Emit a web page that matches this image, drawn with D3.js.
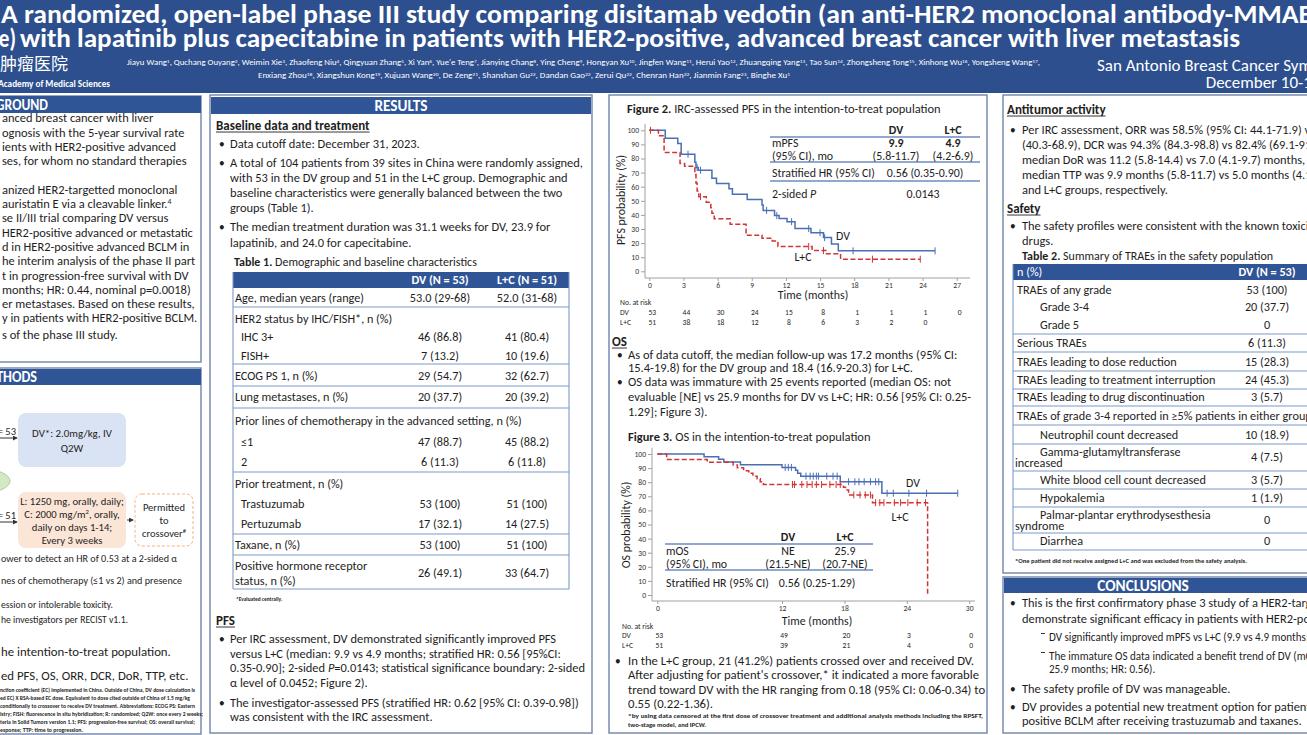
<!DOCTYPE html>
<html><head><meta charset="utf-8">
<script src="https://cdn.jsdelivr.net/npm/d3@7"></script>
<style>html,body{margin:0;padding:0;background:#fff;overflow:hidden}svg{display:block}</style>
</head><body>
<svg id="poster" width="1307" height="735"></svg>
<script>
// ================= DATA =================
const titleLine1 = "A randomized, open-label phase III study comparing disitamab vedotin (an anti-HER2 monoclonal antibody-MMAE";
const titleLine2a = "conjugate)";
const titleLine2b = "with lapatinib plus capecitabine in patients with HER2-positive, advanced breast cancer with liver metastasis";
const authors1 = "Jiayu Wang^{1}, Quchang Ouyang^{2}, Weimin Xie^{3}, Zhaofeng Niu^{4}, Qingyuan Zhang^{5}, Xi Yan^{6}, Yue'e Teng^{7}, Jianying Chang^{8}, Ying Cheng^{9}, Hongyan Xu^{10}, Jingfen Wang^{11}, Herui Yao^{12}, Zhuangqing Yang^{13}, Tao Sun^{14}, Zhongsheng Tong^{15}, Xinhong Wu^{16}, Yongsheng Wang^{17},";
const authors2 = "Enxiang Zhou^{18}, Xiangshun Kong^{19}, Xujuan Wang^{20}, De Zeng^{21}, Shanshan Gu^{22}, Dandan Gao^{22}, Zerui Qu^{22}, Chenran Han^{22}, Jianmin Fang^{23}, Binghe Xu^{1}";
const meeting = ["San Antonio Breast Cancer Symposium", "December 10-13, 2024"];

// Figure 2 – IRC-assessed PFS (time in months, survival %)
const pfsTicks = [0, 3, 6, 9, 12, 15, 18, 21, 24, 27];
const pfsDV = [[0,100],[1.4,94.3],[2.5,90.6],[2.8,83.0],[4.0,77.4],[4.1,73.6],[4.3,71.7],[5.5,66.0],[5.9,62.3],[7.0,58.5],[7.3,54.7],[8.6,50.9],[9.9,47.0],[10.0,43.2],[11.0,39.5],[11.4,37.4],[12.1,35.2],[12.8,30.3],[14.2,27.3],[15.3,23.9],[16.0,19.3],[16.6,14.5],[25.1,14.5]];
const pfsLC = [[0,100],[0.8,96.1],[1.3,84.3],[2.7,76.5],[3.1,74.5],[4.0,68.6],[4.1,62.7],[4.2,56.9],[4.35,52.9],[5.0,49.0],[5.4,45.1],[5.5,41.2],[5.7,37.3],[7.1,33.3],[8.5,25.5],[9.9,23.5],[10.8,21.5],[11.3,17.6],[14.3,14.7],[15.5,12.4],[16.8,8.6],[23.8,8.6]];
const pfsCensDV = [3.4, 4.2, 4.5, 10.3, 11.2, 12.5, 14.0, 15.0, 15.4, 17.9, 25.1];
const pfsCensLC = [0.1, 4.5, 14.0, 15.3, 19.6, 23.8];
const pfsRiskDV = [53, 44, 30, 24, 15, 8, 1, 1, 1, 0];
const pfsRiskLC = [51, 38, 18, 12, 8, 6, 3, 2, 0];

// Figure 3 – OS
const osTicks = [0, 12, 18, 24, 30];
const osDV = [[0,100],[4.5,98.1],[5.9,96.2],[6.4,94.3],[8.0,92.4],[12.0,90.5],[13.3,88.5],[13.5,86.4],[13.8,84.3],[17.6,80.3],[21.6,72.2],[28.9,72.2]];
const osLC = [[0,100],[0.9,96.1],[4.8,94.1],[7.3,92.2],[7.7,90.2],[8.3,88.2],[8.8,86.3],[9.2,84.3],[9.6,82.4],[9.9,80.4],[10.2,78.4],[17.9,76.5],[18.1,74.5],[18.4,71.0],[20.7,65.5],[26.0,0]];
const osCensDV = [12.3,12.6,12.9,14.3,14.7,15.0,15.3,15.5,16.3,16.9,17.3,18.4,19.0,19.4,19.9,20.5,21.0,21.3,22.1,22.7,24.2,25.9,28.9];
const osCensLC = [13.0,13.2,13.9,14.4,14.9,15.3,15.8,16.6,17.2,17.6,18.9,19.5,20.0,20.5,21.0,21.4,21.8,22.8,23.4,24.1,25.0,25.8];
const osRiskDV = [53, 49, 20, 3, 0];
const osRiskLC = [51, 39, 21, 4, 0];
const yTicks = [0, 10, 20, 30, 40, 50, 60, 70, 80, 90, 100];

// Table 1
const t1Cols = ["DV (N = 53)", "L+C (N = 51)"];
const t1Rows = [
  ["Age, median years (range)", "53.0 (29-68)", "52.0 (31-68)", 0],
  ["HER2 status by IHC/FISH*, n (%)", "", "", 0],
  ["IHC 3+", "46 (86.8)", "41 (80.4)", 1],
  ["FISH+", "7 (13.2)", "10 (19.6)", 1],
  ["ECOG PS 1, n (%)", "29 (54.7)", "32 (62.7)", 0],
  ["Lung metastases, n (%)", "20 (37.7)", "20 (39.2)", 0],
  ["Prior lines of chemotherapy in the advanced setting, n (%)", "", "", 0],
  ["≤1", "47 (88.7)", "45 (88.2)", 1],
  ["2", "6 (11.3)", "6 (11.8)", 1],
  ["Prior treatment, n (%)", "", "", 0],
  ["Trastuzumab", "53 (100)", "51 (100)", 1],
  ["Pertuzumab", "17 (32.1)", "14 (27.5)", 1],
  ["Taxane, n (%)", "53 (100)", "51 (100)", 0],
  ["Positive hormone receptor|status, n (%)", "26 (49.1)", "33 (64.7)", 0]
];
// Table 2
const t2Cols = ["n (%)", "DV (N = 53)", "L+C (N = 50*)"];
const t2Rows = [
  ["TRAEs of any grade", "53 (100)", 0],
  ["Grade 3-4", "20 (37.7)", 1],
  ["Grade 5", "0", 1],
  ["Serious TRAEs", "6 (11.3)", 0],
  ["TRAEs leading to dose reduction", "15 (28.3)", 0],
  ["TRAEs leading to treatment interruption", "24 (45.3)", 0],
  ["TRAEs leading to drug discontinuation", "3 (5.7)", 0],
  ["TRAEs of grade 3-4 reported in ≥5% patients in either group", "", 0],
  ["Neutrophil count decreased", "10 (18.9)", 1],
  ["Gamma-glutamyltransferase|increased", "4 (7.5)", 1],
  ["White blood cell count decreased", "3 (5.7)", 1],
  ["Hypokalemia", "1 (1.9)", 1],
  ["Palmar-plantar erythrodysesthesia|syndrome", "0", 1],
  ["Diarrhea", "0", 1]
];

// ================= SETUP =================
const svg = d3.select('#poster');
const F = "Carlito, Lato, 'Open Sans', sans-serif";
const HDR = '#2d4f8e', BLUE = '#2f5597', BORDER = '#6f84aa', TLINE = '#7d9acb', DVC = '#4a6fb5', LCC = '#d03434', INK = '#1e1e1e';
const probe = svg.append('text').attr('font-family', F).attr('font-size', 11).text('A total of 104 patients from 39 sites in China were randomly assigned,');
const K = 353 / probe.node().getComputedTextLength();
probe.remove();
const S = n => +(n * K).toFixed(2);

function rich(g, x, y, str, o = {}) {
  const s = o.s || S(11);
  const t = g.append('text').attr('x', x).attr('y', y + s * 0.34)
    .attr('font-family', o.f || F).attr('font-size', s)
    .attr('fill', o.c || INK).attr('text-anchor', o.a || 'start');
  if (o.b) t.attr('font-weight', 700);
  if (o.w) t.attr('textLength', o.w).attr('lengthAdjust', 'spacingAndGlyphs');
  const r = s * 0.38; let raised = false;
  str.split(/(\^\{[^}]*\}|~\{[^}]*\}|!\{[^}]*\})/).forEach(p => {
    if (!p) return;
    let m;
    if ((m = p.match(/^\^\{(.*)\}$/))) {
      t.append('tspan').attr('font-size', s * 0.62).attr('dy', raised ? 0 : -r).text(m[1]);
      raised = true; return;
    }
    const ts = t.append('tspan');
    if (raised) { ts.attr('dy', r); raised = false; }
    if ((m = p.match(/^~\{(.*)\}$/))) ts.attr('font-style', 'italic').text(m[1]);
    else if ((m = p.match(/^!\{(.*)\}$/))) ts.attr('font-weight', 700).text(m[1]);
    else ts.text(p);
  });
  if (o.u) {
    const w = t.node().getComputedTextLength();
    g.append('line').attr('x1', x).attr('x2', x + w).attr('y1', y + s * 0.34 + 1.6).attr('y2', y + s * 0.34 + 1.6)
      .attr('stroke', o.c || INK).attr('stroke-width', 0.9);
  }
  return t;
}
function block(g, x, ys, strs, o) { strs.forEach((s, i) => rich(g, x, ys[i], s, o)); }
function box(x, y, w, h) {
  svg.append('rect').attr('x', x).attr('y', y).attr('width', w).attr('height', h)
    .attr('fill', '#fff').attr('stroke', BORDER).attr('stroke-width', 1.4);
}
function bar(x, y, w, h, label, lx, anchor, tw) {
  svg.append('rect').attr('x', x).attr('y', y).attr('width', w).attr('height', h).attr('fill', BLUE);
  rich(svg, lx, y + h / 2, label, { s: S(13.5), b: 1, c: '#fff', a: anchor || 'middle', w: tw });
}
const defs = svg.append('defs');
defs.append('marker').attr('id', 'arr').attr('viewBox', '0 0 6 6').attr('refX', 5).attr('refY', 3)
  .attr('markerWidth', 5).attr('markerHeight', 5).attr('orient', 'auto')
  .append('path').attr('d', 'M0,0L6,3L0,6Z').attr('fill', '#333');

// ================= HEADER =================
svg.append('rect').attr('width', 1307).attr('height', 93).attr('fill', HDR);
rich(svg, 1, 14, titleLine1, { s: 27, b: 1, c: '#fff', w: 1311 });
rich(svg, 16, 37.5, titleLine2a, { s: 27, b: 1, c: '#fff', a: 'end', w: 92 });
rich(svg, 20, 37.5, titleLine2b, { s: 27, b: 1, c: '#fff', w: 1220 });
rich(svg, 68, 64, "中国医学科学院肿瘤医院", { s: 17, c: '#fff', a: 'end', f: "'Noto Sans CJK SC', sans-serif" });
rich(svg, 110, 84, "Chinese Academy of Medical Sciences", { s: 9.2, b: 1, c: '#fff', a: 'end' });
rich(svg, 127, 63, authors1, { s: 7.3, c: '#fff', w: 913 });
rich(svg, 258, 76, authors2, { s: 7.3, c: '#fff', w: 532 });
{
  const m1 = rich(svg, 1097, 65, meeting[0], { s: S(15), c: '#fff' });
  const right = 1097 + m1.node().getComputedTextLength();
  rich(svg, right, 82.5, meeting[1], { s: S(15), c: '#fff', a: 'end' });
}

// ================= COLUMN 1 =================
box(-6, 96, 207, 266);
bar(-6, 96, 207, 17, "BACKGROUND", -34, 'start', 82);
block(svg, 2, [118, 133, 147, 161, 190, 204, 218, 233, 247, 261, 276, 290, 304, 318, 335], [
  "anced breast cancer with liver",
  "ognosis with the 5-year survival rate",
  "ients with HER2-positive advanced",
  "ses, for whom no standard therapies",
  "anized HER2-targetted monoclonal",
  "auristatin E via a cleavable linker.^{4}",
  "se II/III trial comparing DV versus",
  "HER2-positive advanced or metastatic",
  "d in HER2-positive advanced BCLM in",
  "he interim analysis of the phase II part",
  "t in progression-free survival with DV",
  "months; HR: 0.44, nominal p=0.0018)",
  "er metastases. Based on these results,",
  "y in patients with HER2-positive BCLM.",
  "s of the phase III study."
]);

box(-6, 368, 207, 366);
bar(-6, 369, 207, 16, "METHODS", -23, 'start', 60);
// flow diagram
rich(svg, 16, 431, "= 53", { s: S(9.3), a: 'end' });
svg.append('line').attr('x1', -6).attr('x2', 17).attr('y1', 438).attr('y2', 438).attr('stroke', '#333').attr('stroke-width', 1).attr('marker-end', 'url(#arr)');
svg.append('rect').attr('x', 18).attr('y', 413).attr('width', 108).attr('height', 54).attr('rx', 8).attr('fill', '#dae3f3');
rich(svg, 72, 433, "DV*: 2.0mg/kg, IV", { s: S(9.6), a: 'middle' });
rich(svg, 72, 448, "Q2W", { s: S(9.6), a: 'middle' });
svg.append('ellipse').attr('cx', -18).attr('cy', 481).attr('rx', 28).attr('ry', 12).attr('fill', '#d5e8c6').attr('stroke', '#a9d18e');
rich(svg, 16, 515, "= 51", { s: S(9.3), a: 'end' });
svg.append('line').attr('x1', -6).attr('x2', 17).attr('y1', 522).attr('y2', 522).attr('stroke', '#333').attr('stroke-width', 1).attr('marker-end', 'url(#arr)');
svg.append('rect').attr('x', 18).attr('y', 492).attr('width', 108).attr('height', 56).attr('rx', 8).attr('fill', '#fbe5d6');
block(svg, 72, [501, 514, 527, 540], ["L: 1250 mg, orally, daily;", "C: 2000 mg/m^{2}, orally,", "daily on days 1-14;", "Every 3 weeks"], { s: S(9.4), a: 'middle' });
svg.append('line').attr('x1', 127).attr('x2', 133).attr('y1', 520).attr('y2', 520).attr('stroke', '#333').attr('stroke-width', 1).attr('marker-end', 'url(#arr)');
svg.append('rect').attr('x', 135).attr('y', 494).attr('width', 58).attr('height', 52).attr('rx', 7).attr('fill', 'none').attr('stroke', '#f4b183').attr('stroke-dasharray', '3,2');
block(svg, 164, [507, 520, 533], ["Permitted", "to", "crossover^{#}"], { s: S(9.3), a: 'middle' });
[["ower to detect an HR of 0.53 at a 2-sided α", 558, 176],
 ["nes of chemotherapy (≤1 vs 2) and presence", 580, 181],
 ["ession or intolerable toxicity.", 604, 112],
 ["he investigators per RECIST v1.1.", 619, 127]].forEach(d => rich(svg, 1, d[1], d[0], { s: S(9.6), w: d[2] }));
block(svg, 1, [652, 676], ["he intention-to-treat population.", "ed PFS, OS, ORR, DCR, DoR, TTP, etc."], { s: S(11.3) });
const fn1 = [
  ["nction coefficient (EC) implemented in China. Outside of China, DV dose calculation is", 195],
  ["ed EC) X BSA-based EC dose. Equivalent to dose cited outside of China of 1.5 mg/kg", 190],
  ["conditionally to crossover to receive DV treatment. Abbreviations: ECOG PS: Eastern", 195],
  ["istry; FISH: fluorescence in situ hybridization; R: randomized; Q2W: once every 2 weeks;", 203],
  ["teria in Solid Tumors version 1.1; PFS: progression-free survival; OS: overall survival;", 195],
  ["esponse; TTP: time to progression.", 83]
];
fn1.forEach((d, i) => rich(svg, 0, 690 + i * 8, d[0], { s: 5.4, b: 1, w: d[1] }));

// ================= COLUMN 2 (RESULTS) =================
box(210, 95, 382, 638);
bar(211, 97, 380, 17, "RESULTS", 401);
rich(svg, 216, 126, "Baseline data and treatment", { s: S(11.5), b: 1, u: 1 });
[144, 163, 227].forEach(y => rich(svg, 219, y, "•", { s: S(10) }));
block(svg, 230, [144, 163, 178, 193, 208, 227, 243], [
  "Data cutoff date: December 31, 2023.",
  "A total of 104 patients from 39 sites in China were randomly assigned,",
  "with 53 in the DV group and 51 in the L+C group. Demographic and",
  "baseline characteristics were generally balanced between the two",
  "groups (Table 1).",
  "The median treatment duration was 31.1 weeks for DV, 23.9 for",
  "lapatinib, and 24.0 for capecitabine."
]);
rich(svg, 234, 262, "!{Table 1.} Demographic and baseline characteristics", { s: S(10.6) });
{
  const g = svg.append('g');
  const colX = [440, 527], rowY = [298, 319, 337, 356, 376, 397, 421, 442, 462, 484, 504, 524, 545, 573];
  const lineY = [307, 364, 386, 408, 472, 534, 555, 589];
  g.append('rect').attr('x', 233).attr('y', 272).attr('width', 336).attr('height', 16).attr('fill', BLUE);
  t1Cols.forEach((c, i) => rich(g, colX[i], 280, c, { b: 1, c: '#fff', a: 'middle', s: S(10.8) }));
  t1Rows.forEach((r, i) => {
    const y = rowY[i], parts = r[0].split('|');
    if (parts.length > 1) { rich(g, 235, y - 7.5, parts[0], { s: S(10.8) }); rich(g, 235, y + 7.5, parts[1], { s: S(10.8) }); }
    else rich(g, r[3] ? 241 : 235, y, parts[0], { s: S(10.8) });
    rich(g, colX[0], y, r[1], { a: 'middle', s: S(10.8) });
    rich(g, colX[1], y, r[2], { a: 'middle', s: S(10.8) });
  });
  lineY.forEach(y => g.append('line').attr('x1', 233).attr('x2', 569).attr('y1', y).attr('y2', y).attr('stroke', TLINE).attr('stroke-width', 1.1));
  [233, 569].forEach(x => g.append('line').attr('x1', x).attr('x2', x).attr('y1', 272).attr('y2', 589).attr('stroke', TLINE).attr('stroke-width', 1.1));
  rich(g, 236, 599, "*Evaluated centrally.", { s: 5.4, b: 1 });
}
rich(svg, 216, 621, "PFS", { s: S(11.5), b: 1, u: 1 });
[639, 703].forEach(y => rich(svg, 219, y, "•", { s: S(10) }));
block(svg, 230, [639, 654, 668, 683, 703, 717], [
  "Per IRC assessment, DV demonstrated significantly improved PFS",
  "versus L+C (median: 9.9 vs 4.9 months; stratified HR: 0.56 [95%CI:",
  "0.35-0.90]; 2-sided ~{P}=0.0143; statistical significance boundary: 2-sided",
  "α level of 0.0452; Figure 2).",
  "The investigator-assessed PFS (stratified HR: 0.62 [95% CI: 0.39-0.98])",
  "was consistent with the IRC assessment."
]);

// ================= COLUMN 3 (FIGURES) =================
box(609, 95, 378, 638);

function survAt(steps, t) { let v = steps[0][1]; steps.forEach(s => { if (s[0] <= t) v = s[1]; }); return v; }
function kmPlot(c) {
  const g = svg.append('g');
  const xs = d3.scaleLinear().domain([0, c.xmax]).range(c.xr);
  const ys = d3.scaleLinear().domain([0, 100]).range(c.yr);
  const ya = g.append('g').attr('transform', `translate(${c.ax},0)`)
    .call(d3.axisLeft(ys).tickValues(yTicks).tickSize(4).tickPadding(2).tickSizeOuter(0));
  ya.select('.domain').attr('d', `M0,${ys(104.5)}V${c.ay}`);
  const xa = g.append('g').attr('transform', `translate(0,${c.ay})`)
    .call(d3.axisBottom(xs).tickValues(c.ticks).tickSize(3).tickPadding(2).tickSizeOuter(0));
  xa.select('.domain').attr('d', `M${c.ax},0H${c.xend}`);
  [ya, xa].forEach(a => {
    a.selectAll('path,line').attr('stroke', '#a0a0a0');
    a.selectAll('text').attr('font-family', F).attr('font-size', 7.6).attr('fill', '#333');
  });
  const line = d3.line().x(d => xs(d[0])).y(d => ys(d[1])).curve(d3.curveStepAfter);
  c.series.forEach(s => {
    g.append('path').datum(s.steps).attr('d', line).attr('fill', 'none').attr('stroke', s.color)
      .attr('stroke-width', 1.5).attr('stroke-dasharray', s.dash || null);
    g.selectAll(null).data(s.cens).join('line')
      .attr('x1', d => xs(d)).attr('x2', d => xs(d))
      .attr('y1', d => ys(survAt(s.steps, d)) - 3.5).attr('y2', d => ys(survAt(s.steps, d)) + 3.5)
      .attr('stroke', s.color).attr('stroke-width', 1);
    rich(g, s.lx, s.ly, s.name, { s: S(10.5), a: 'middle' });
  });
  g.append('text').attr('transform', `translate(${c.ylx},${c.yly}) rotate(-90)`).attr('text-anchor', 'middle')
    .attr('dy', '0.34em').attr('font-family', F).attr('font-size', S(10.5)).attr('fill', INK).text(c.ylab);
  rich(g, c.tx, c.ty, "Time (months)", { s: S(10.5), a: 'middle' });
  rich(g, c.rx, c.ry[0], "No. at risk", { s: 7.6 });
  c.risk.forEach((r, j) => {
    rich(g, c.rx, c.ry[j + 1], r.name, { s: 7.6 });
    r.vals.forEach((v, i) => rich(g, xs(c.riskT[i]) + c.roff, c.ry[j + 1], String(v), { s: 7.6, a: 'middle' }));
  });
  return { xs, ys };
}

rich(svg, 627, 109, "!{Figure 2.} IRC-assessed PFS in the intention-to-treat population", { s: S(11) });
kmPlot({
  xmax: 27, xr: [649.3, 956.7], yr: [271.3, 130.3], ax: 645, ay: 278, xend: 970, ticks: pfsTicks,
  series: [
    { name: "DV", steps: pfsDV, cens: pfsCensDV, color: DVC, lx: 843, ly: 236 },
    { name: "L+C", steps: pfsLC, cens: pfsCensLC, color: LCC, dash: '5,2.5', lx: 803, ly: 257 }
  ],
  ylab: "PFS probability (%)", ylx: 621, yly: 200, tx: 813, ty: 295,
  rx: 620, ry: [302, 312, 322], riskT: pfsTicks, roff: 3,
  risk: [{ name: "DV", vals: pfsRiskDV }, { name: "L+C", vals: pfsRiskLC }]
});
{
  const g = svg.append('g'), s = S(10.5);
  [137, 162, 181].forEach(y => g.append('line').attr('x1', 770).attr('x2', 980).attr('y1', y).attr('y2', y).attr('stroke', '#6d8bbf').attr('stroke-width', 1.4));
  rich(g, 896, 130, "DV", { s, b: 1, a: 'middle' }); rich(g, 953, 130, "L+C", { s, b: 1, a: 'middle' });
  rich(g, 772, 143, "mPFS", { s }); rich(g, 772, 156, "(95% CI), mo", { s });
  rich(g, 896, 143, "9.9", { s, b: 1, a: 'middle' }); rich(g, 953, 143, "4.9", { s, b: 1, a: 'middle' });
  rich(g, 896, 156, "(5.8-11.7)", { s, a: 'middle' }); rich(g, 953, 156, "(4.2-6.9)", { s, a: 'middle' });
  rich(g, 772, 173, "Stratified HR (95% CI)", { s }); rich(g, 925, 173, "0.56 (0.35-0.90)", { s, a: 'middle' });
  rich(g, 772, 194, "2-sided ~{P}", { s }); rich(g, 923, 194, "0.0143", { s, a: 'middle' });
}
rich(svg, 612, 342, "OS", { s: S(11.5), b: 1, u: 1 });
[355, 382].forEach(y => rich(svg, 617, y, "•", { s: S(10) }));
block(svg, 628, [355, 368, 382, 397, 412], [
  "As of data cutoff, the median follow-up was 17.2 months (95% CI:",
  "15.4-19.8) for the DV group and 18.4 (16.9-20.3) for L+C.",
  "OS data was immature with 25 events reported (median OS: not",
  "evaluable [NE] vs 25.9 months for DV vs L+C; HR: 0.56 [95% CI: 0.25-",
  "1.29]; Figure 3)."
]);
rich(svg, 628, 437, "!{Figure 3.} OS in the intention-to-treat population", { s: S(11) });
kmPlot({
  xmax: 30, xr: [657.3, 969.2], yr: [595, 454], ax: 652, ay: 601, xend: 975, ticks: osTicks,
  series: [
    { name: "DV", steps: osDV, cens: osCensDV, color: DVC, lx: 913, ly: 483 },
    { name: "L+C", steps: osLC, cens: osCensLC, color: LCC, dash: '5,2.5', lx: 900, ly: 517 }
  ],
  ylab: "OS probability (%)", ylx: 626, yly: 525, tx: 817, ty: 621,
  rx: 622, ry: [626, 635, 645], riskT: osTicks, roff: 2,
  risk: [{ name: "DV", vals: osRiskDV }, { name: "L+C", vals: osRiskLC }]
});
{
  const g = svg.append('g'), s = S(10.5);
  [544, 570].forEach(y => g.append('line').attr('x1', 665).attr('x2', 873).attr('y1', y).attr('y2', y).attr('stroke', '#6d8bbf').attr('stroke-width', 1.4));
  rich(g, 788, 537, "DV", { s, b: 1, a: 'middle' }); rich(g, 845, 537, "L+C", { s, b: 1, a: 'middle' });
  rich(g, 666, 551, "mOS", { s }); rich(g, 666, 564, "(95% CI), mo", { s });
  rich(g, 788, 551, "NE", { s, a: 'middle' }); rich(g, 845, 551, "25.9", { s, a: 'middle' });
  rich(g, 788, 564, "(21.5-NE)", { s, a: 'middle' }); rich(g, 845, 564, "(20.7-NE)", { s, a: 'middle' });
  rich(g, 666, 583, "Stratified HR (95% CI)", { s }); rich(g, 817, 583, "0.56 (0.25-1.29)", { s, a: 'middle' });
}
rich(svg, 615, 661, "•", { s: S(10) });
block(svg, 628, [661, 675, 690, 704], [
  "In the L+C group, 21 (41.2%) patients crossed over and received DV.",
  "After adjusting for patient's crossover,* it indicated a more favorable",
  "trend toward DV with the HR ranging from 0.18 (95% CI: 0.06-0.34) to",
  "0.55 (0.22-1.36)."
], { s: S(11.2) });
rich(svg, 628, 716, "*by using data censored at the first dose of crossover treatment and additional analysis methods including the RPSFT,", { s: 5.4, b: 1, w: 355 });
rich(svg, 628, 725, "two-stage model, and IPCW.", { s: 5.4, b: 1, w: 78 });

// ================= COLUMN 4 =================
box(1003, 95, 320, 478);
rich(svg, 1007, 110, "Antitumor activity", { s: S(11.5), b: 1, u: 1 });
rich(svg, 1010, 130, "•", { s: S(10) });
block(svg, 1022, [130, 145, 160, 175, 190], [
  "Per IRC assessment, ORR was 58.5% (95% CI: 44.1-71.9) vs 54.9%",
  "(40.3-68.9), DCR was 94.3% (84.3-98.8) vs 82.4% (69.1-91.6),",
  "median DoR was 11.2 (5.8-14.4) vs 7.0 (4.1-9.7) months, and",
  "median TTP was 9.9 months (5.8-11.7) vs 5.0 months (4.1-6.9) in the DV",
  "and L+C groups, respectively."
]);
rich(svg, 1007, 209, "Safety", { s: S(11.5), b: 1, u: 1 });
rich(svg, 1010, 226, "•", { s: S(10) });
block(svg, 1022, [226, 241], ["The safety profiles were consistent with the known toxicities of the", "drugs."]);
rich(svg, 1022, 256, "!{Table 2.} Summary of TRAEs in the safety population", { s: S(10.6) });
{
  const g = svg.append('g');
  const colX = [1017, 1267, 1345];
  const rowY = [290, 307, 325, 343, 362, 380, 397, 416, 435, 457, 480, 498, 520, 541];
  const lineY = [334, 352, 371, 389, 406, 425, 444, 471, 489, 507, 533, 550];
  g.append('rect').attr('x', 1013).attr('y', 264).attr('width', 310).attr('height', 16).attr('fill', BLUE);
  rich(g, colX[0], 272, t2Cols[0], { c: '#fff', s: S(10.8) });
  rich(g, colX[1], 272, t2Cols[1], { c: '#fff', b: 1, a: 'middle', s: S(10.8) });
  rich(g, colX[2], 272, t2Cols[2], { c: '#fff', b: 1, a: 'middle', s: S(10.8) });
  t2Rows.forEach((r, i) => {
    const y = rowY[i], parts = r[0].split('|'), x = r[2] ? 1040 : 1017;
    if (parts.length > 1) { rich(g, x, y - 5.5, parts[0], { s: S(10.8) }); rich(g, 1015, y + 5.5, parts[1], { s: S(10.8) }); }
    else rich(g, x, y, parts[0], { s: S(10.8) });
    rich(g, colX[1], y, r[1], { a: 'middle', s: S(10.8) });
  });
  lineY.forEach(y => g.append('line').attr('x1', 1013).attr('x2', 1323).attr('y1', y).attr('y2', y).attr('stroke', TLINE).attr('stroke-width', 1.1));
  g.append('line').attr('x1', 1013).attr('x2', 1013).attr('y1', 264).attr('y2', 550).attr('stroke', TLINE).attr('stroke-width', 1.1);
  rich(g, 1015, 561, "*One patient did not receive assigned L+C and was excluded from the safety analysis.", { s: 5.4, b: 1, w: 232 });
}
box(1003, 577, 320, 156);
bar(1004, 578, 318, 15, "CONCLUSIONS", 1143);
[603, 689, 707].forEach(y => rich(svg, 1010, y, "•", { s: S(10) }));
block(svg, 1022, [603, 619], [
  "This is the first confirmatory phase 3 study of a HER2-targeted ADC to",
  "demonstrate significant efficacy in patients with HER2-positive BCLM."
]);
[637, 656].forEach(y => svg.append('line').attr('x1', 1041).attr('x2', 1045).attr('y1', y - 3.5).attr('y2', y - 3.5).attr('stroke', INK).attr('stroke-width', 0.9));
block(svg, 1049, [637, 656, 669], [
  "DV significantly improved mPFS vs L+C (9.9 vs 4.9 months; HR: 0.56).",
  "The immature OS data indicated a benefit trend of DV (mOS: NE vs",
  "25.9 months; HR: 0.56)."
], { s: S(9.8) });
block(svg, 1022, [689, 707, 721], [
  "The safety profile of DV was manageable.",
  "DV provides a potential new treatment option for patients with HER2-",
  "positive BCLM after receiving trastuzumab and taxanes."
]);
</script>
</body></html>
